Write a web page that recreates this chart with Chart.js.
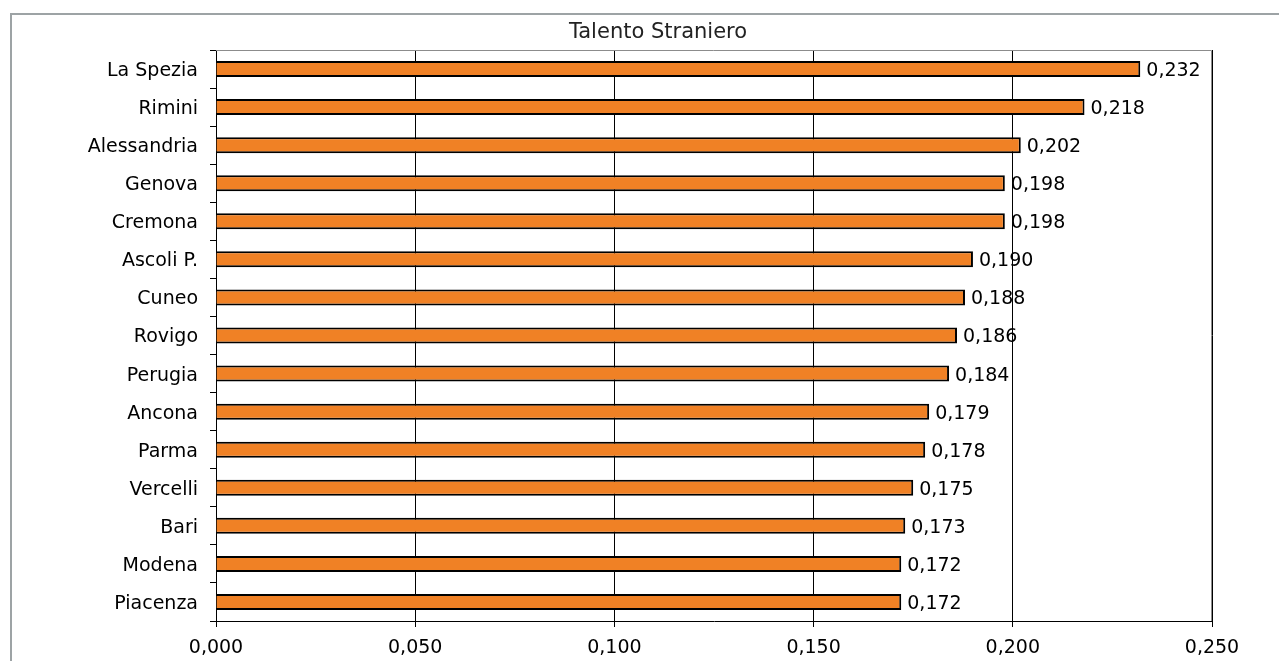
<!DOCTYPE html>
<html>
<head>
<meta charset="utf-8">
<script src="https://cdn.jsdelivr.net/npm/chart.js@4/dist/chart.umd.min.js"></script>
<style>
  html, body { margin: 0; padding: 0; background: #fff; }
  #wrap { width: 1279px; height: 661px; position: relative; }
</style>
</head>
<body>
<div id="wrap"><canvas id="chart"></canvas></div>
<script>
"use strict";

const categories = [
  "La Spezia", "Rimini", "Alessandria", "Genova", "Cremona",
  "Ascoli P.", "Cuneo", "Rovigo", "Perugia", "Ancona",
  "Parma", "Vercelli", "Bari", "Modena", "Piacenza",
];
const values = [
  0.232, 0.218, 0.202, 0.198, 0.198,
  0.190, 0.188, 0.186, 0.184, 0.179,
  0.178, 0.175, 0.173, 0.172, 0.172,
];
const chartTitle = "Talento Straniero";
const xTicks = [0, 0.05, 0.1, 0.15, 0.2, 0.25];

const FONT = "'DejaVu Sans', Verdana, sans-serif";
const fmt = (v) => v.toFixed(3).replace(".", ",");

// outer frame, title, plot border and value labels
const decor = {
  id: "decor",
  beforeDraw(chart) {
    const c = chart.ctx;
    c.save();
    c.strokeStyle = "#9da3a5";
    c.lineWidth = 2;
    c.strokeRect(11, 14, 1400, 800);
    c.fillStyle = "#222";
    c.font = "21px " + FONT;
    c.textAlign = "center";
    c.textBaseline = "middle";
    c.fillText(chartTitle, 658, 33);
    c.restore();
  },
  afterDatasetsDraw(chart) {
    const c = chart.ctx;
    const a = chart.chartArea;
    c.save();
    c.strokeStyle = "#8c8c8c";
    c.lineWidth = 1;
    c.beginPath();
    c.moveTo(a.left, a.top + 0.5);
    c.lineTo(a.right - 0.5, a.top + 0.5);
    c.lineTo(a.right - 0.5, a.bottom);
    c.stroke();
    c.fillStyle = "#000";
    c.font = "19px " + FONT;
    c.textAlign = "left";
    c.textBaseline = "middle";
    const meta = chart.getDatasetMeta(0);
    meta.data.forEach((bar, i) => {
      c.fillText(fmt(values[i]), bar.x + 6, bar.y + 2);
    });
    c.restore();
  },
};

const ctx = document.getElementById("chart").getContext("2d");
new Chart(ctx, {
  type: "bar",
  data: {
    labels: categories,
    datasets: [{
      data: values,
      backgroundColor: "#F08125",
      borderColor: "#000",
      borderWidth: 2,
      barPercentage: 0.42,
      categoryPercentage: 1,
    }],
  },
  options: {
    indexAxis: "y",
    responsive: true,
    maintainAspectRatio: false,
    animation: false,
    layout: { padding: { top: 50, right: 67, left: 0, bottom: 0 } },
    plugins: {
      legend: { display: false },
      tooltip: { enabled: false },
      title: { display: false },
    },
    scales: {
      x: {
        min: 0,
        max: 0.25,
        afterBuildTicks: (s) => { s.ticks = xTicks.map((v) => ({ value: v })); },
        afterFit: (s) => { s.height = 40; },
        ticks: {
          color: "#000",
          font: { family: FONT, size: 19 },
          padding: 10,
          maxRotation: 0,
          callback: (v) => fmt(v),
        },
        grid: { color: "#000", lineWidth: 1, tickLength: 6 },
        border: { color: "#000", width: 1 },
      },
      y: {
        afterFit: (s) => { s.width = 216; },
        ticks: {
          color: "#000",
          font: { family: FONT, size: 19 },
          padding: 12,
          labelOffset: 2,
        },
        grid: { drawOnChartArea: false, color: "#000", tickLength: 6, offset: true },
        border: { color: "#000", width: 1 },
      },
    },
  },
  plugins: [decor],
});
</script>
</body>
</html>
